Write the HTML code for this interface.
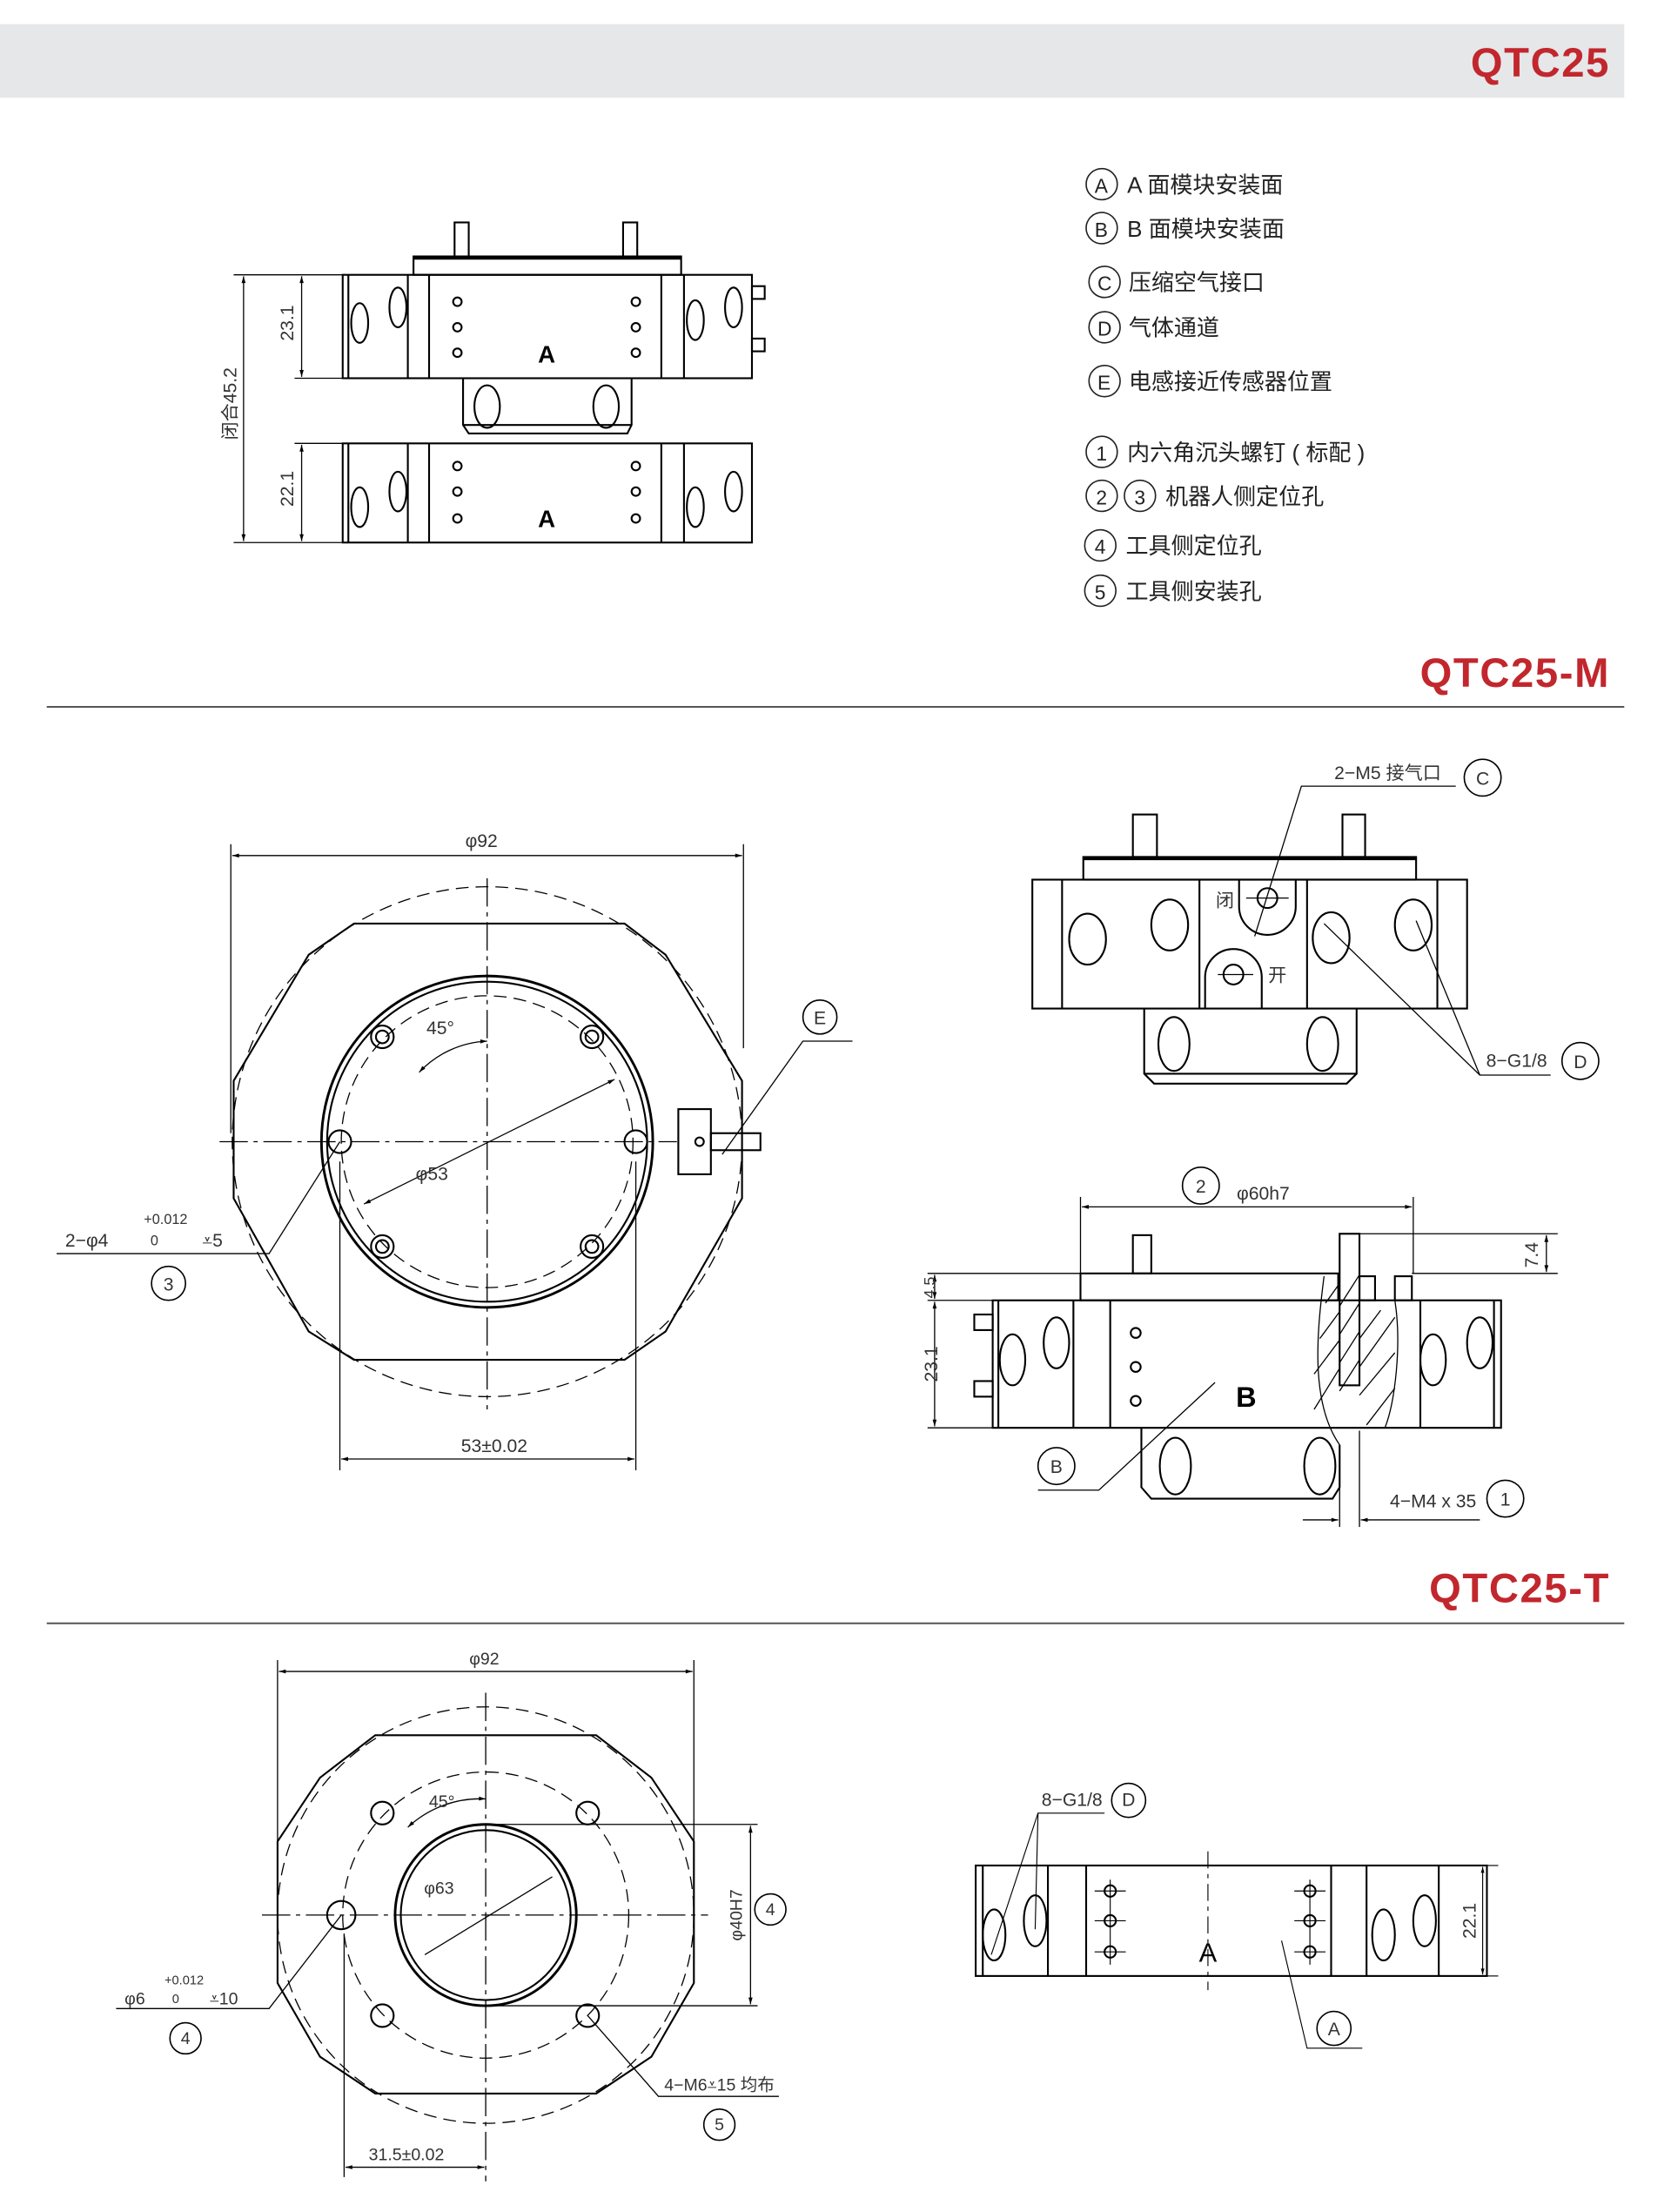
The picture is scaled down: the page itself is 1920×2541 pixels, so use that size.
<!DOCTYPE html>
<html><head><meta charset="utf-8"><style>
html,body{margin:0;padding:0;background:#fff}
svg{display:block}
text{font-family:"Liberation Sans","Noto Sans CJK SC",sans-serif}
.t{font-family:"Liberation Sans Narrow","Liberation Sans","Noto Sans CJK SC",sans-serif;fill:#333}
</style></head><body>
<svg width="1920" height="2541" viewBox="0 0 1180 1561.6" xmlns="http://www.w3.org/2000/svg">
<defs>
<marker id="a" viewBox="0 0 10 10" refX="10" refY="5" markerWidth="8" markerHeight="6" orient="auto-start-reverse"><path d="M0,2 L10,5 L0,8z" fill="#000"/></marker>
</defs>
<rect x="0" y="0" width="1180" height="1562" fill="#fff"/>
<rect x="0" y="17" width="1147" height="52" fill="#e6e7e9"/>
<g fill="#c1272d" font-weight="bold" font-size="29" text-anchor="end" letter-spacing="1">
<text x="1137" y="54">QTC25</text>
<text x="1137" y="485">QTC25-M</text>
<text x="1137" y="1131">QTC25-T</text>
</g>
<line x1="33" y1="499" x2="1147" y2="499" stroke="#555" stroke-width="1.2"/>
<line x1="33" y1="1146" x2="1147" y2="1146" stroke="#555" stroke-width="1.2"/>

<g fill="none" stroke="#222" stroke-width="1">
<circle cx="778" cy="130" r="11"/><circle cx="778" cy="161" r="11"/><circle cx="780" cy="199" r="11"/><circle cx="780" cy="231" r="11"/><circle cx="780" cy="269" r="11"/><circle cx="778" cy="319" r="11"/><circle cx="778" cy="350" r="11"/><circle cx="805" cy="350" r="11"/><circle cx="777" cy="385" r="11"/><circle cx="777" cy="417" r="11"/>
</g>
<g font-size="16" fill="#222">
<text x="773" y="136" font-size="14">A</text><text x="773" y="167" font-size="14">B</text><text x="775" y="205" font-size="14">C</text><text x="775" y="237" font-size="14">D</text><text x="775" y="275" font-size="14">E</text><text x="774" y="325" font-size="14">1</text><text x="774" y="356" font-size="14">2</text><text x="801" y="356" font-size="14">3</text><text x="773" y="391" font-size="14">4</text><text x="773" y="423" font-size="14">5</text>
<text x="796" y="136">A 面模块安装面</text>
<text x="796" y="167">B 面模块安装面</text>
<text x="797" y="205">压缩空气接口</text>
<text x="797" y="237">气体通道</text>
<text x="797" y="275">电感接近传感器位置</text>
<text x="796" y="325">内六角沉头螺钉 ( 标配 )</text>
<text x="823" y="356">机器人侧定位孔</text>
<text x="795" y="391">工具侧定位孔</text>
<text x="795" y="423">工具侧安装孔</text>
</g>

<g fill="none" stroke="#000" stroke-width="1.3">
<rect x="321" y="157" width="10" height="24"/><rect x="440" y="157" width="10" height="24"/>
<rect x="292" y="181" width="189" height="13"/><line x1="292" y1="182" x2="481" y2="182" stroke-width="2.5"/>
<rect x="242" y="194" width="289" height="73"/>
<line x1="246" y1="194" x2="246" y2="267"/><line x1="288" y1="194" x2="288" y2="267"/><line x1="303" y1="194" x2="303" y2="267"/><line x1="467" y1="194" x2="467" y2="267"/><line x1="483" y1="194" x2="483" y2="267"/>
<rect x="531" y="202" width="9" height="9"/><rect x="531" y="239" width="9" height="9"/>
<ellipse cx="254" cy="228" rx="6" ry="14"/><ellipse cx="281" cy="217" rx="6" ry="14"/><ellipse cx="491" cy="226" rx="6" ry="14"/><ellipse cx="518" cy="217" rx="6" ry="14"/>
<circle cx="323" cy="213" r="3"/><circle cx="323" cy="231" r="3"/><circle cx="323" cy="249" r="3"/><circle cx="449" cy="213" r="3"/><circle cx="449" cy="231" r="3"/><circle cx="449" cy="249" r="3"/>
<path d="M327,267 V300 L331,306 H443 L446,300 V267"/><line x1="327" y1="300" x2="446" y2="300"/>
<ellipse cx="344" cy="287" rx="9" ry="15"/><ellipse cx="428" cy="287" rx="9" ry="15"/>
<rect x="242" y="313" width="289" height="70"/>
<line x1="246" y1="313" x2="246" y2="383"/><line x1="288" y1="313" x2="288" y2="383"/><line x1="303" y1="313" x2="303" y2="383"/><line x1="467" y1="313" x2="467" y2="383"/><line x1="483" y1="313" x2="483" y2="383"/>
<ellipse cx="254" cy="358" rx="6" ry="14"/><ellipse cx="281" cy="347" rx="6" ry="14"/><ellipse cx="491" cy="358" rx="6" ry="14"/><ellipse cx="518" cy="347" rx="6" ry="14"/>
<circle cx="323" cy="329" r="3"/><circle cx="323" cy="347" r="3"/><circle cx="323" cy="366" r="3"/><circle cx="449" cy="329" r="3"/><circle cx="449" cy="347" r="3"/><circle cx="449" cy="366" r="3"/>
</g>
<g font-size="17" font-weight="bold" text-anchor="middle"><text x="386" y="256">A</text><text x="386" y="372">A</text></g>
<g stroke="#000" stroke-width="0.8" fill="none">
<line x1="165" y1="194" x2="242" y2="194"/><line x1="165" y1="383" x2="242" y2="383"/><line x1="208" y1="267" x2="242" y2="267"/><line x1="208" y1="313" x2="242" y2="313"/>
<line x1="172" y1="195" x2="172" y2="382" marker-start="url(#a)" marker-end="url(#a)"/>
<line x1="213" y1="195" x2="213" y2="266" marker-start="url(#a)" marker-end="url(#a)"/>
<line x1="213" y1="314" x2="213" y2="382" marker-start="url(#a)" marker-end="url(#a)"/>
</g>
<g class="t" font-size="13">
<text transform="translate(167,285) rotate(-90)" text-anchor="middle">闭合45.2</text>
<text transform="translate(207,228) rotate(-90)" text-anchor="middle">23.1</text>
<text transform="translate(207,345) rotate(-90)" text-anchor="middle">22.1</text>
</g>

<g fill="none" stroke="#000" stroke-width="0.8">
<circle cx="344" cy="806" r="180" stroke-dasharray="9,5"/>
<circle cx="344" cy="806" r="103" stroke-dasharray="9,5"/>
<line x1="155" y1="806" x2="478" y2="806" stroke-dasharray="20,4,3,4"/>
<line x1="344" y1="620" x2="344" y2="995" stroke-dasharray="20,4,3,4"/>
<line x1="163" y1="596" x2="163" y2="800"/><line x1="525" y1="596" x2="525" y2="740"/>
<line x1="164" y1="604" x2="524" y2="604" marker-start="url(#a)" marker-end="url(#a)"/>
<line x1="240" y1="820" x2="240" y2="1038"/><line x1="449" y1="820" x2="449" y2="1038"/>
<line x1="241" y1="1030" x2="448" y2="1030" marker-start="url(#a)" marker-end="url(#a)"/>
<line x1="257" y1="850" x2="434" y2="762" marker-start="url(#a)" marker-end="url(#a)"/>
<path d="M296,757 A70,70 0 0 1 344,735" marker-start="url(#a)" marker-end="url(#a)"/>
<path d="M40,885 H190 L240,806"/>
<path d="M510,815 L567,735 H602"/>
</g>
<g fill="none" stroke="#000" stroke-width="1.3">
<path d="M250,652 H441 L470,674 L524,763 V846 L470,940 L441,960 H250 L218,940 L165,846 V763 L218,674 Z"/>
<circle cx="344" cy="806" r="117" stroke-width="1.8"/><circle cx="344" cy="806" r="113"/>
<circle cx="270" cy="732" r="8"/><circle cx="270" cy="732" r="4.5"/><circle cx="418" cy="732" r="8"/><circle cx="418" cy="732" r="4.5"/>
<circle cx="270" cy="880" r="8"/><circle cx="270" cy="880" r="4.5"/><circle cx="418" cy="880" r="8"/><circle cx="418" cy="880" r="4.5"/>
<circle cx="240" cy="806" r="8"/><circle cx="449" cy="806" r="8"/>
<rect x="479" y="783" width="23" height="46"/><rect x="502" y="800" width="35" height="12"/><circle cx="494" cy="806" r="3"/>
<circle cx="579" cy="718" r="12" stroke-width="1"/><circle cx="119" cy="906" r="12" stroke-width="1"/>
</g>
<g class="t" font-size="13" text-anchor="middle">
<text x="340" y="598">φ92</text><text x="349" y="1025">53±0.02</text><text x="305" y="833">φ53</text><text x="311" y="730">45°</text>
<text x="579" y="723">E</text><text x="119" y="911">3</text>
<text x="46" y="880" text-anchor="start">2−φ4</text><text x="117" y="864" font-size="10">+0.012</text><text x="109" y="879" font-size="10">0</text><text x="150" y="880">⩡5</text>
</g>

<g fill="none" stroke="#000" stroke-width="1.3">
<rect x="800" y="575" width="17" height="30"/><rect x="948" y="575" width="16" height="30"/>
<rect x="765" y="605" width="235" height="16"/><line x1="765" y1="606" x2="1000" y2="606" stroke-width="2.5"/>
<rect x="729" y="621" width="307" height="91"/>
<line x1="750" y1="621" x2="750" y2="712"/><line x1="847" y1="621" x2="847" y2="712"/><line x1="923" y1="621" x2="923" y2="712"/><line x1="1015" y1="621" x2="1015" y2="712"/>
<ellipse cx="768" cy="663" rx="13" ry="18"/><ellipse cx="826" cy="653" rx="13" ry="18"/><ellipse cx="940" cy="662" rx="13" ry="18"/><ellipse cx="998" cy="653" rx="13" ry="18"/>
<path d="M875,621 V640 A20,20 0 0 0 915,640 V621"/><circle cx="895" cy="634" r="7"/>
<path d="M851,712 V690 A20,20 0 0 1 891,690 V712"/><circle cx="871" cy="688" r="7"/>
<path d="M808,712 V758 L815,765 H951 L958,758 V712"/><line x1="808" y1="758" x2="958" y2="758"/>
<ellipse cx="829" cy="737" rx="11" ry="19"/><ellipse cx="934" cy="737" rx="11" ry="19"/>
<circle cx="1047" cy="549" r="13" stroke-width="1"/><circle cx="1116" cy="749" r="13" stroke-width="1"/>
</g>
<g fill="none" stroke="#000" stroke-width="0.8">
<path d="M1028,555 H919 L886,661"/><line x1="880" y1="634" x2="910" y2="634"/><line x1="860" y1="688" x2="885" y2="688"/>
<path d="M1095,759 H1045 L935,652"/><path d="M1045,759 L1000,650"/>
</g>
<g class="t" font-size="13" text-anchor="middle">
<text x="980" y="550">2−M5 接气口</text><text x="1047" y="554">C</text><text x="1071" y="753">8−G1/8</text><text x="1116" y="754">D</text>
<text x="865" y="640">闭</text><text x="902" y="693">开</text>
</g>

<g fill="none" stroke="#000" stroke-width="1.3">
<rect x="800" y="872" width="13" height="27"/>
<rect x="763" y="899" width="182" height="19"/>
<rect x="946" y="871" width="14" height="107"/>
<rect x="985" y="901" width="12" height="17"/>
<path d="M960,918 V901 H971 V918 Z"/>
<rect x="701" y="918" width="359" height="90"/>
<line x1="705" y1="918" x2="705" y2="1008"/><line x1="758" y1="918" x2="758" y2="1008"/><line x1="784" y1="918" x2="784" y2="1008"/><line x1="1003" y1="918" x2="1003" y2="1008"/><line x1="1055" y1="918" x2="1055" y2="1008"/>
<rect x="688" y="928" width="13" height="11"/><rect x="688" y="975" width="13" height="11"/>
<ellipse cx="715" cy="960" rx="9" ry="18"/><ellipse cx="746" cy="948" rx="9" ry="18"/><ellipse cx="1012" cy="960" rx="9" ry="18"/><ellipse cx="1045" cy="948" rx="9" ry="18"/>
<circle cx="802" cy="941" r="3.5"/><circle cx="802" cy="965" r="3.5"/><circle cx="802" cy="989" r="3.5"/>
<path d="M806,1008 V1050 L813,1058 H941 L946,1050 V1020"/>
<ellipse cx="830" cy="1035" rx="11" ry="20"/><ellipse cx="932" cy="1035" rx="11" ry="20"/>
<circle cx="848" cy="837" r="13" stroke-width="1"/><circle cx="746" cy="1035" r="13" stroke-width="1"/><circle cx="1063" cy="1058" r="13" stroke-width="1"/>
</g>
<g fill="none" stroke="#000" stroke-width="0.8">
<path d="M935,901 C930,940 925,990 946,1020"/><path d="M985,918 C990,950 985,990 978,1008"/>
<path d="M936,920 L946,906 M932,945 L946,926 M928,970 L946,946 M928,995 L946,966 M960,900 L946,922 M960,920 L946,942 M960,940 L946,962 M960,960 L946,982 M975,925 L960,945 M985,930 L960,965 M985,955 L960,985 M985,980 L965,1006"/>
<line x1="763" y1="845" x2="763" y2="899"/><line x1="998" y1="845" x2="998" y2="899"/>
<line x1="764" y1="852" x2="997" y2="852" marker-start="url(#a)" marker-end="url(#a)"/>
<line x1="960" y1="871" x2="1100" y2="871"/><line x1="997" y1="899" x2="1100" y2="899"/>
<line x1="1092" y1="872" x2="1092" y2="898" marker-start="url(#a)" marker-end="url(#a)"/>
<line x1="655" y1="899" x2="763" y2="899"/><line x1="655" y1="918" x2="701" y2="918"/><line x1="655" y1="1008" x2="701" y2="1008"/>
<line x1="660" y1="900" x2="660" y2="917" marker-start="url(#a)" marker-end="url(#a)"/>
<line x1="660" y1="919" x2="660" y2="1007" marker-start="url(#a)" marker-end="url(#a)"/>
<path d="M733,1052 H776 L858,976"/>
<line x1="946" y1="1020" x2="946" y2="1078"/><line x1="960" y1="1010" x2="960" y2="1078"/>
<line x1="920" y1="1073" x2="945" y2="1073" marker-end="url(#a)"/><line x1="1045" y1="1073" x2="961" y2="1073" marker-end="url(#a)"/>
</g>
<text x="880" y="993" font-size="20" font-weight="bold" text-anchor="middle">B</text>
<g class="t" font-size="13" text-anchor="middle">
<text x="848" y="842">2</text><text x="892" y="847">φ60h7</text><text x="746" y="1040">B</text><text x="1063" y="1063">1</text>
<text x="1012" y="1064">4−M4 x 35</text>
<text transform="translate(1086,886) rotate(-90)">7.4</text>
<text transform="translate(660,909) rotate(-90)" font-size="11">4.5</text>
<text transform="translate(662,963) rotate(-90)">23.1</text>
</g>

<g fill="none" stroke="#000" stroke-width="0.8">
<circle cx="343" cy="1352" r="147" stroke-dasharray="9,5"/>
<circle cx="343" cy="1352" r="101" stroke-dasharray="9,5"/>
<line x1="185" y1="1352" x2="500" y2="1352" stroke-dasharray="20,4,3,4"/>
<line x1="343" y1="1195" x2="343" y2="1540" stroke-dasharray="20,4,3,4"/>
<line x1="196" y1="1172" x2="196" y2="1300"/><line x1="490" y1="1172" x2="490" y2="1300"/>
<line x1="197" y1="1180" x2="489" y2="1180" marker-start="url(#a)" marker-end="url(#a)"/>
<line x1="243" y1="1365" x2="243" y2="1537"/>
<line x1="244" y1="1530" x2="342" y2="1530" marker-start="url(#a)" marker-end="url(#a)"/>
<line x1="343" y1="1288" x2="535" y2="1288"/><line x1="343" y1="1416" x2="535" y2="1416"/>
<line x1="530" y1="1289" x2="530" y2="1415" marker-start="url(#a)" marker-end="url(#a)"/>
<path d="M288,1290 A75,75 0 0 1 343,1270" marker-start="url(#a)" marker-end="url(#a)"/>
<line x1="300" y1="1380" x2="390" y2="1325"/>
<path d="M82,1418 H190 L241,1352"/>
<path d="M550,1480 H465 L415,1423"/>
</g>
<g fill="none" stroke="#000" stroke-width="1.3">
<path d="M265,1225 H421 L460,1255 L490,1300 V1400 L460,1452 L421,1478 H265 L226,1452 L196,1400 V1300 L226,1255 Z"/>
<circle cx="343" cy="1352" r="64" stroke-width="1.8"/><circle cx="343" cy="1352" r="60"/>
<circle cx="270" cy="1280" r="8"/><circle cx="415" cy="1280" r="8"/><circle cx="270" cy="1423" r="8"/><circle cx="415" cy="1423" r="8"/>
<circle cx="241" cy="1352" r="10"/>
<circle cx="544" cy="1348" r="11" stroke-width="1"/><circle cx="131" cy="1439" r="11" stroke-width="1"/><circle cx="508" cy="1500" r="11" stroke-width="1"/>
</g>
<g class="t" font-size="12" text-anchor="middle">
<text x="342" y="1175">φ92</text><text x="287" y="1525">31.5±0.02</text><text x="310" y="1337">φ63</text><text x="312" y="1276">45°</text>
<text transform="translate(524,1352) rotate(-90)">φ40H7</text>
<text x="544" y="1352">4</text><text x="131" y="1443">4</text><text x="508" y="1504">5</text>
<text x="508" y="1476">4−M6⩡15 均布</text>
<text x="88" y="1415" text-anchor="start">φ6</text><text x="130" y="1401" font-size="9">+0.012</text><text x="124" y="1414" font-size="9">0</text><text x="158" y="1415">⩡10</text>
</g>

<g fill="none" stroke="#000" stroke-width="1.3">
<rect x="689" y="1317" width="361" height="78"/>
<line x1="694" y1="1317" x2="694" y2="1395"/><line x1="740" y1="1317" x2="740" y2="1395"/><line x1="767" y1="1317" x2="767" y2="1395"/><line x1="940" y1="1317" x2="940" y2="1395"/><line x1="965" y1="1317" x2="965" y2="1395"/><line x1="1016" y1="1317" x2="1016" y2="1395"/>
<ellipse cx="702" cy="1366" rx="8" ry="18"/><ellipse cx="731" cy="1356" rx="8" ry="18"/><ellipse cx="977" cy="1366" rx="8" ry="18"/><ellipse cx="1006" cy="1356" rx="8" ry="18"/>
<circle cx="784" cy="1335" r="4"/><circle cx="784" cy="1356" r="4"/><circle cx="784" cy="1378" r="4"/><circle cx="925" cy="1335" r="4"/><circle cx="925" cy="1356" r="4"/><circle cx="925" cy="1378" r="4"/>
<circle cx="797" cy="1271" r="12" stroke-width="1"/><circle cx="942" cy="1432" r="12" stroke-width="1"/>
</g>
<g fill="none" stroke="#000" stroke-width="0.7">
<line x1="784" y1="1327" x2="784" y2="1387"/><line x1="925" y1="1327" x2="925" y2="1387"/>
<line x1="773" y1="1335" x2="795" y2="1335"/><line x1="773" y1="1356" x2="795" y2="1356"/><line x1="773" y1="1378" x2="795" y2="1378"/>
<line x1="914" y1="1335" x2="936" y2="1335"/><line x1="914" y1="1356" x2="936" y2="1356"/><line x1="914" y1="1378" x2="936" y2="1378"/>
<line x1="853" y1="1307" x2="853" y2="1405" stroke-dasharray="12,4,3,4"/>
<path d="M780,1280 H733 L700,1380 M733,1280 L731,1362"/>
<path d="M962,1446 H923 L905,1370"/>
<line x1="1050" y1="1317" x2="1058" y2="1317"/><line x1="1050" y1="1395" x2="1058" y2="1395"/>
<line x1="1047" y1="1318" x2="1047" y2="1394" marker-start="url(#a)" marker-end="url(#a)"/>
</g>
<text x="853" y="1385" font-size="19" text-anchor="middle">A</text>
<g class="t" font-size="13" text-anchor="middle">
<text x="757" y="1275">8−G1/8</text><text x="797" y="1275">D</text><text x="942" y="1437">A</text>
<text transform="translate(1042,1356) rotate(-90)">22.1</text>
</g>
</svg>
</body></html>
